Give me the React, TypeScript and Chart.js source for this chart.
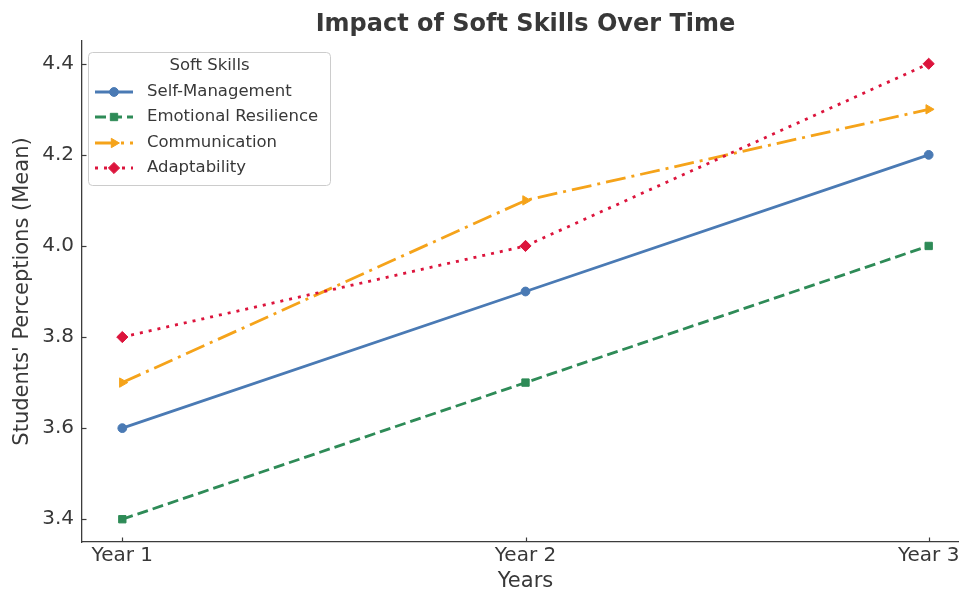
import React, { useEffect, useRef } from "react";
import { Chart, registerables } from "chart.js";
import { drawPoint } from "chart.js/helpers";

Chart.register(...registerables);

// ---------- data ----------
const categories = ["Year 1", "Year 2", "Year 3"];
const seriesNames = ["Self-Management", "Emotional Resilience", "Communication", "Adaptability"];
const selfManagement = [3.6, 3.9, 4.2];
const emotionalResilience = [3.4, 3.7, 4.0];
const communication = [3.7, 4.1, 4.3];
const adaptability = [3.8, 4.0, 4.4];
const yTickValues = [3.4, 3.6, 3.8, 4.0, 4.2, 4.4];

const chartTitle = "Impact of Soft Skills Over Time";
const xTitle = "Years";
const yTitle = "Students' Perceptions (Mean)";
const legendTitle = "Soft Skills";

// ---------- styles ----------
const FONT = "'DejaVu Sans', sans-serif";
const TEXT = "#383838";
const AXIS = "#3c3c3c";

const seriesStyles = [
  { color: "#4a7ab4", dash: [] as number[], point: "circle", radius: 4.4, rotation: 0 },
  { color: "#2e8b57", dash: [11, 5], point: "rect", radius: 5.2, rotation: 0 },
  { color: "#f5a31a", dash: [20, 6, 3, 6], point: "triangle", radius: 5.4, rotation: 90 },
  { color: "#dc143c", dash: [3, 6], point: "rectRot", radius: 5.6, rotation: 0 },
];

const seriesValues = [selfManagement, emotionalResilience, communication, adaptability];

const decorPlugin = {
  id: "decor",
  afterDraw(chart: any) {
    const { ctx, chartArea: ca, scales } = chart;
    ctx.save();

    // title
    ctx.fillStyle = TEXT;
    ctx.font = `bold 24px ${FONT}`;
    ctx.textAlign = "center";
    ctx.textBaseline = "alphabetic";
    ctx.fillText(chartTitle, (ca.left + ca.right) / 2, 31);

    // inward tick marks
    ctx.strokeStyle = AXIS;
    ctx.lineWidth = 1.2;
    ctx.setLineDash([]);
    for (const v of yTickValues) {
      const y = Math.round(scales.y.getPixelForValue(v)) + 0.5;
      ctx.beginPath();
      ctx.moveTo(ca.left, y);
      ctx.lineTo(ca.left + 4.5, y);
      ctx.stroke();
    }
    categories.forEach((_, i) => {
      const x = Math.round(scales.x.getPixelForValue(i)) + 0.5;
      ctx.beginPath();
      ctx.moveTo(x, ca.bottom);
      ctx.lineTo(x, ca.bottom - 4.5);
      ctx.stroke();
    });

    // legend
    const lx = 88.5, ly = 52.5, lw = 242, lh = 133;
    ctx.beginPath();
    (ctx as any).roundRect(lx, ly, lw, lh, 4);
    ctx.fillStyle = "rgba(255,255,255,0.8)";
    ctx.fill();
    ctx.strokeStyle = "#cccccc";
    ctx.lineWidth = 1;
    ctx.stroke();

    ctx.fillStyle = TEXT;
    ctx.font = `16.5px ${FONT}`;
    ctx.textAlign = "center";
    ctx.textBaseline = "middle";
    ctx.fillText(legendTitle, lx + lw / 2, 66);

    const rows = [92, 117, 143, 168];
    chart.data.datasets.forEach((ds: any, i: number) => {
      const y = rows[i];
      const st = seriesStyles[i];
      ctx.strokeStyle = st.color;
      ctx.lineWidth = 2.8;
      ctx.setLineDash(st.dash);
      ctx.beginPath();
      ctx.moveTo(95, y);
      ctx.lineTo(133, y);
      ctx.stroke();
      ctx.setLineDash([]);
      ctx.fillStyle = st.color;
      ctx.strokeStyle = st.color;
      ctx.lineWidth = 1;
      drawPoint(ctx, { pointStyle: st.point as any, rotation: st.rotation, radius: st.radius, borderWidth: 1 }, 114, y);
      ctx.fillStyle = TEXT;
      ctx.font = `16.5px ${FONT}`;
      ctx.textAlign = "left";
      ctx.textBaseline = "middle";
      ctx.fillText(ds.label, 147, y);
    });

    ctx.restore();
  },
};

export default function App() {
  const canvasRef = useRef<HTMLCanvasElement | null>(null);

  useEffect(() => {
    const canvas = canvasRef.current;
    if (!canvas) return;
    const datasets = seriesNames.map((name, i) => {
      const st = seriesStyles[i];
      return {
        label: name,
        data: seriesValues[i].map((v, j) => ({ x: j, y: v })),
        borderColor: st.color,
        backgroundColor: st.color,
        borderWidth: 2.8,
        borderDash: st.dash,
        pointStyle: st.point,
        pointRotation: st.rotation,
        pointRadius: st.radius,
        pointBorderWidth: 1,
        pointBackgroundColor: st.color,
        pointBorderColor: st.color,
        tension: 0,
        fill: false,
        order: seriesNames.length - i,
      };
    });

    const chart = new Chart(canvas, {
      type: "line",
      data: { datasets: datasets as any },
      plugins: [decorPlugin as any],
      options: {
        animation: false,
        responsive: false,
        events: [],
        layout: { padding: { left: 0, top: 41, right: 31, bottom: 0 } },
        plugins: {
          legend: { display: false },
          title: { display: false },
          tooltip: { enabled: false },
        },
        scales: {
          x: {
            type: "linear",
            bounds: "data",
            min: -0.1,
            max: 2.1,
            afterFit: (s: any) => {
              s.height = 50;
            },
            afterBuildTicks: (s: any) => {
              s.ticks = categories.map((_, i) => ({ value: i }));
            },
            grid: { display: false, drawTicks: false },
            border: { display: true, color: AXIS, width: 1.3 },
            ticks: {
              color: TEXT,
              font: { family: FONT, size: 20 },
              padding: 2,
              maxRotation: 0,
              autoSkip: false,
              callback: (v: any) => categories[Math.round(Number(v))] ?? "",
            },
            title: {
              display: true,
              text: xTitle,
              color: TEXT,
              font: { family: FONT, size: 21, lineHeight: 1 },
              padding: { top: 0, bottom: 0 },
            },
          },
          y: {
            type: "linear",
            bounds: "data",
            min: 3.35,
            max: 4.45,
            afterFit: (s: any) => {
              s.width = 82;
            },
            afterBuildTicks: (s: any) => {
              s.ticks = yTickValues.map((v) => ({ value: v }));
            },
            grid: { display: false, drawTicks: false },
            border: { display: true, color: AXIS, width: 1.3 },
            ticks: {
              color: TEXT,
              font: { family: FONT, size: 20 },
              padding: 8,
              callback: (v: any) => Number(v).toFixed(1),
            },
            title: {
              display: true,
              text: yTitle,
              color: TEXT,
              font: { family: FONT, size: 21, lineHeight: 1 },
              padding: { top: 12, bottom: 0 },
            },
          },
        },
      },
    });
    return () => chart.destroy();
  }, []);

  return (
    <div style={{ position: "fixed", left: 0, top: 0, width: 959, height: 592, overflow: "hidden", background: "#fff" }}>
      <canvas ref={canvasRef} width={1000} height={592} style={{ width: 1000, height: 592, display: "block" }} />
    </div>
  );
}
